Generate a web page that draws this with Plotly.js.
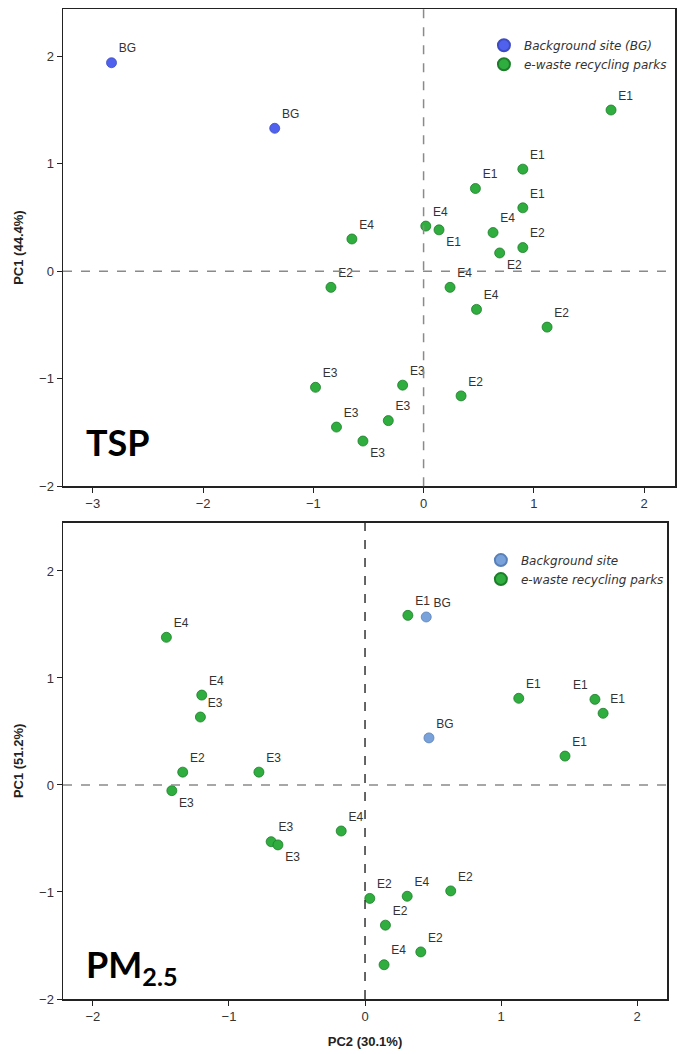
<!DOCTYPE html>
<html>
<head>
<meta charset="utf-8">
<script src="https://cdn.plot.ly/plotly-3.0.1.min.js"></script>
<style>html,body{margin:0;padding:0;background:#fff;}#chart{width:681px;height:1054px;}</style>
</head>
<body>
<div id="chart"></div>
<script>
// ---- TSP panel data ----
const tspBgX = [-2.83, -1.35];
const tspBgY = [1.94, 1.33];
const tspBgLabels = ['BG', 'BG'];

const tspEX = [1.70, 0.90, 0.47, 0.90, 0.14,   0.02, 0.63, -0.65, 0.24, 0.48,   0.90, 0.69, -0.84, 1.12, 0.34,   -0.98, -0.19, -0.32, -0.79, -0.55];
const tspEY = [1.50, 0.95, 0.77, 0.59, 0.385,  0.42, 0.36, 0.30, -0.15, -0.355, 0.22, 0.17, -0.15, -0.52, -1.16,  -1.08, -1.06, -1.39, -1.45, -1.58];
const tspELabels = ['E1','E1','E1','E1','E1', 'E4','E4','E4','E4','E4', 'E2','E2','E2','E2','E2', 'E3','E3','E3','E3','E3'];
const tspEPos = ['top right','top right','top right','top right','bottom right',
                 'top right','top right','top right','top right','top right',
                 'top right','bottom right','top right','top right','top right',
                 'top right','top right','top right','top right','bottom right'];

// ---- PM2.5 panel data ----
const pmBgX = [0.45, 0.47];
const pmBgY = [1.57, 0.44];
const pmBgLabels = ['BG', 'BG'];

const pmEX = [0.315, 1.13, 1.69, 1.75, 1.47,   -1.46, -1.20, -0.175, 0.31, 0.14,   -1.21, -0.78, -1.42, -0.69, -0.64,   -1.34, 0.035, 0.63, 0.15, 0.41];
const pmEY = [1.585, 0.81, 0.80, 0.67, 0.27,   1.38, 0.84, -0.43, -1.04, -1.68,    0.635, 0.12, -0.053, -0.53, -0.56,    0.12, -1.06, -0.99, -1.31, -1.56];
const pmELabels = ['E1','E1','E1','E1','E1', 'E4','E4','E4','E4','E4', 'E3','E3','E3','E3','E3', 'E2','E2','E2','E2','E2'];
const pmEPos = ['top right','top right','top left','top right','top right',
                'top right','top right','top right','top right','top right',
                'top right','top right','bottom right','top right','bottom right',
                'top right','top right','top right','top right','top right'];

const tickVals1 = [-3, -2, -1, 0, 1, 2];
const tickVals2 = [-2, -1, 0, 1, 2];
const yTickVals = [-2, -1, 0, 1, 2];

const FONT = 'Liberation Sans, Arial, sans-serif';
const lblFont = {family: FONT, size: 12, color: '#333'};
const legFont = {family: 'DejaVu Sans, sans-serif', size: 12, color: '#333'};

const green = {color: '#2FAD3F', size: 10, line: {color: '#1E7D2B', width: 0.8}};

const traces = [
  {x: tspBgX, y: tspBgY, text: tspBgLabels, mode: 'markers+text', type: 'scatter',
   textposition: 'top right', textfont: lblFont, xaxis: 'x', yaxis: 'y',
   name: '<i>Background site (BG)</i>', legend: 'legend',
   marker: {color: '#5061EE', size: 10, line: {color: '#3E4CC2', width: 0.8}}},
  {x: tspEX, y: tspEY, text: tspELabels, mode: 'markers+text', type: 'scatter',
   textposition: tspEPos, textfont: lblFont, xaxis: 'x', yaxis: 'y',
   name: '<i>e-waste recycling parks</i>', legend: 'legend', marker: green},
  {x: pmBgX, y: pmBgY, text: pmBgLabels, mode: 'markers+text', type: 'scatter',
   textposition: 'top right', textfont: lblFont, xaxis: 'x2', yaxis: 'y2',
   name: '<i>Background site</i>', legend: 'legend2',
   marker: {color: '#79A2DB', size: 10, line: {color: '#5A80B8', width: 0.8}}},
  {x: pmEX, y: pmEY, text: pmELabels, mode: 'markers+text', type: 'scatter',
   textposition: pmEPos, textfont: lblFont, xaxis: 'x2', yaxis: 'y2',
   name: '<i>e-waste recycling parks</i>', legend: 'legend2', marker: green}
];

const axisCommon = {
  showline: true, mirror: true, linecolor: '#222', linewidth: 1.5,
  ticks: 'outside', ticklen: 5, tickcolor: '#222', tickwidth: 1,
  showgrid: false, zeroline: false,
  tickfont: {family: FONT, size: 13, color: '#333'}
};

const layout = {
  width: 681, height: 1054,
  margin: {l: 63, r: 6, t: 9, b: 55},
  paper_bgcolor: '#fff', plot_bgcolor: '#fff',
  font: {family: FONT, color: '#333'},
  xaxis: Object.assign({}, axisCommon, {domain: [0, 1], range: [-3.27, 2.28], tickvals: tickVals1, anchor: 'y'}),
  yaxis: Object.assign({}, axisCommon, {domain: [0.518, 1], range: [-2, 2.44], tickvals: yTickVals, anchor: 'x',
    title: {text: '<b>PC1 (44.4%)</b>', font: {family: FONT, size: 13, color: '#222'}, standoff: 12}}),
  xaxis2: Object.assign({}, axisCommon, {domain: [0, 0.987], range: [-2.22, 2.22], tickvals: tickVals2, anchor: 'y2',
    title: {text: '<b>PC2 (30.1%)</b>', font: {family: FONT, size: 13, color: '#222'}, standoff: 14}}),
  yaxis2: Object.assign({}, axisCommon, {domain: [0, 0.481], range: [-2, 2.45], tickvals: yTickVals, anchor: 'x2',
    title: {text: '<b>PC1 (51.2%)</b>', font: {family: FONT, size: 13, color: '#222'}, standoff: 12}}),
  legend: {x: 0.995, y: 0.978, xanchor: 'right', yanchor: 'top', bgcolor: 'rgba(0,0,0,0)',
    font: legFont, itemsizing: 'constant', itemwidth: 30, tracegroupgap: 0},
  legend2: {x: 0.99, y: 0.458, xanchor: 'right', yanchor: 'top', bgcolor: 'rgba(0,0,0,0)',
    font: legFont, itemsizing: 'constant', itemwidth: 30, tracegroupgap: 0},
  shapes: [
    {type: 'line', xref: 'x', yref: 'y domain', x0: 0, x1: 0, y0: 0, y1: 1, line: {color: '#8a8a8a', width: 1.5, dash: 'dash'}},
    {type: 'line', xref: 'x domain', yref: 'y', x0: 0, x1: 1, y0: 0, y1: 0, line: {color: '#8a8a8a', width: 1.5, dash: 'dash'}},
    {type: 'line', xref: 'x2', yref: 'y2 domain', x0: 0, x1: 0, y0: 0, y1: 1, line: {color: '#333', width: 1.5, dash: 'dash'}},
    {type: 'line', xref: 'x2 domain', yref: 'y2', x0: 0, x1: 1, y0: 0, y1: 0, line: {color: '#8a8a8a', width: 1.5, dash: 'dash'}}
  ],
  annotations: [
    {text: '<b>TSP</b>', xref: 'paper', yref: 'paper', x: 0.034, y: 0.5626, xanchor: 'left', yanchor: 'middle',
     showarrow: false, font: {family: 'Lato, sans-serif', size: 36, color: '#000'}},
    {text: '<b>PM<sub>2.5</sub></b>', xref: 'paper', yref: 'paper', x: 0.034, y: 0.033, xanchor: 'left', yanchor: 'middle',
     showarrow: false, font: {family: 'Lato, sans-serif', size: 36, color: '#000'}}
  ],
  showlegend: true
};

Plotly.newPlot('chart', traces, layout, {displayModeBar: false, staticPlot: true});
</script>
</body>
</html>
